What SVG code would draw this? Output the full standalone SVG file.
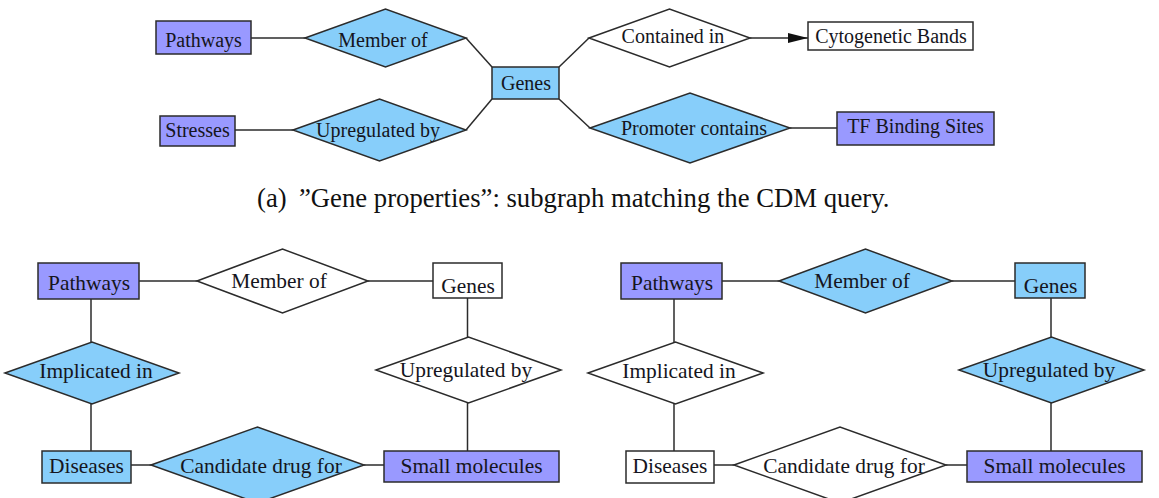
<svg xmlns="http://www.w3.org/2000/svg" width="1159" height="498" viewBox="0 0 1159 498">
<style>
.s{stroke:#2b2b2b;stroke-width:1.5}
.p{fill:#9999ff}
.b{fill:#87cefa}
.w{fill:#ffffff}
.e{stroke:#2b2b2b;stroke-width:1.5;fill:none}
text{font-family:"Liberation Serif","Times New Roman",serif;fill:#151520;text-anchor:middle}
.t{font-size:20px}
.u{font-size:21.4px}
.cap{font-size:26.7px;text-anchor:start;fill:#111}
</style>
<defs>
<marker id="ah" markerWidth="20" markerHeight="10" refX="20" refY="5" orient="auto" markerUnits="userSpaceOnUse">
<path d="M0,0 L20,5 L0,10 Z" fill="#111"/>
</marker>
</defs>
<rect width="1159" height="498" fill="#ffffff"/>
<g id="connectors">
<line class="e" x1="251" y1="38" x2="305" y2="38"/>
<line class="e" x1="235" y1="130" x2="293" y2="130"/>
<line class="e" x1="466" y1="38" x2="492" y2="67"/>
<line class="e" x1="466" y1="130" x2="492" y2="99"/>
<line class="e" x1="559" y1="67" x2="589" y2="38"/>
<line class="e" x1="559" y1="99" x2="590" y2="128"/>
<line class="e" x1="750" y1="38" x2="808" y2="38" marker-end="url(#ah)"/>
<line class="e" x1="790" y1="128" x2="837" y2="128"/>
<line class="e" x1="139" y1="281" x2="197" y2="281"/>
<line class="e" x1="368" y1="281" x2="433" y2="281"/>
<line class="e" x1="467.5" y1="298" x2="467.5" y2="337"/>
<line class="e" x1="467.5" y1="403" x2="467.5" y2="451"/>
<line class="e" x1="364" y1="465" x2="384" y2="465"/>
<line class="e" x1="131" y1="465" x2="151" y2="465"/>
<line class="e" x1="91" y1="299" x2="91" y2="342"/>
<line class="e" x1="91" y1="404" x2="91" y2="451"/>
<line class="e" x1="722" y1="281" x2="779" y2="281"/>
<line class="e" x1="952" y1="281" x2="1015" y2="281"/>
<line class="e" x1="1051" y1="298" x2="1051" y2="337"/>
<line class="e" x1="1051" y1="403" x2="1051" y2="451"/>
<line class="e" x1="946" y1="465" x2="967" y2="465"/>
<line class="e" x1="714" y1="465" x2="734" y2="465"/>
<line class="e" x1="674" y1="299" x2="674" y2="342"/>
<line class="e" x1="674" y1="404" x2="674" y2="451"/>
</g>
<g id="a-pathways"><rect class="s p" x="156" y="21" width="95" height="33"/><text class="t" x="203.5" y="47">Pathways</text></g>
<g id="a-memberof"><polygon class="s b" points="305,38 385.5,9 466,38 385.5,67"/><text class="t" x="383" y="46.5">Member of</text></g>
<g id="a-stresses"><rect class="s p" x="160" y="116" width="75" height="30"/><text class="t" x="197.5" y="137">Stresses</text></g>
<g id="a-upregulated"><polygon class="s b" points="293,130 379.5,99 466,130 379.5,161"/><text class="t" x="378" y="137">Upregulated by</text></g>
<g id="a-genes"><rect class="s b" x="492" y="67" width="67" height="32"/><text class="t" x="526" y="90">Genes</text></g>
<g id="a-containedin"><polygon class="s w" points="589,38 669.5,9 750,38 669.5,67"/><text class="t" x="673" y="43">Contained in</text></g>
<g id="a-cytobands"><rect class="s w" x="808" y="22" width="165" height="28"/><text class="t" x="891" y="43">Cytogenetic Bands</text></g>
<g id="a-promoter"><polygon class="s b" points="590,128 690,93 790,128 690,163"/><text class="t" x="694" y="135">Promoter contains</text></g>
<g id="a-tfbs"><rect class="s p" x="837" y="112" width="157" height="33"/><text class="t" x="915.5" y="133">TF Binding Sites</text></g>
<g id="caption"><text class="cap" y="207"><tspan x="257">(a)</tspan><tspan x="299">”Gene properties”: subgraph matching the CDM query.</tspan></text></g>
<g id="b-pathways"><rect class="s p" x="38" y="263" width="101" height="36"/><text class="u" x="89" y="290">Pathways</text></g>
<g id="b-memberof"><polygon class="s w" points="197,281 282.5,249 368,281 282.5,313"/><text class="u" x="279" y="288">Member of</text></g>
<g id="b-genes"><rect class="s w" x="433" y="263" width="69" height="35"/><text class="u" x="468" y="293">Genes</text></g>
<g id="b-upregulated"><polygon class="s w" points="376,370 468.5,337 561,370 468.5,403"/><text class="u" x="466" y="377">Upregulated by</text></g>
<g id="b-smallmol"><rect class="s p" x="384" y="451" width="175" height="31"/><text class="u" x="471.5" y="473">Small molecules</text></g>
<g id="b-candidate"><polygon class="s b" points="151,465 257.5,427 364,465 257.5,503"/><text class="u" x="261" y="473">Candidate drug for</text></g>
<g id="b-diseases"><rect class="s b" x="42" y="451" width="89" height="32"/><text class="u" x="86.5" y="473">Diseases</text></g>
<g id="b-implicated"><polygon class="s b" points="5,373 92,342 179,373 92,404"/><text class="u" x="96" y="378">Implicated in</text></g>
<g id="c-pathways"><rect class="s p" x="621" y="263" width="101" height="36"/><text class="u" x="672" y="290">Pathways</text></g>
<g id="c-memberof"><polygon class="s b" points="779,281 865.5,249 952,281 865.5,313"/><text class="u" x="862" y="288">Member of</text></g>
<g id="c-genes"><rect class="s b" x="1015" y="263" width="70" height="35"/><text class="u" x="1050.5" y="293">Genes</text></g>
<g id="c-upregulated"><polygon class="s b" points="959,370 1051.5,337 1144,370 1051.5,403"/><text class="u" x="1049" y="377">Upregulated by</text></g>
<g id="c-smallmol"><rect class="s p" x="967" y="451" width="175" height="31"/><text class="u" x="1054.5" y="473">Small molecules</text></g>
<g id="c-candidate"><polygon class="s w" points="734,465 840,427 946,465 840,503"/><text class="u" x="844" y="473">Candidate drug for</text></g>
<g id="c-diseases"><rect class="s w" x="626" y="451" width="88" height="32"/><text class="u" x="670" y="473">Diseases</text></g>
<g id="c-implicated"><polygon class="s w" points="588,373 675.5,342 763,373 675.5,404"/><text class="u" x="679" y="378">Implicated in</text></g>
</svg>
